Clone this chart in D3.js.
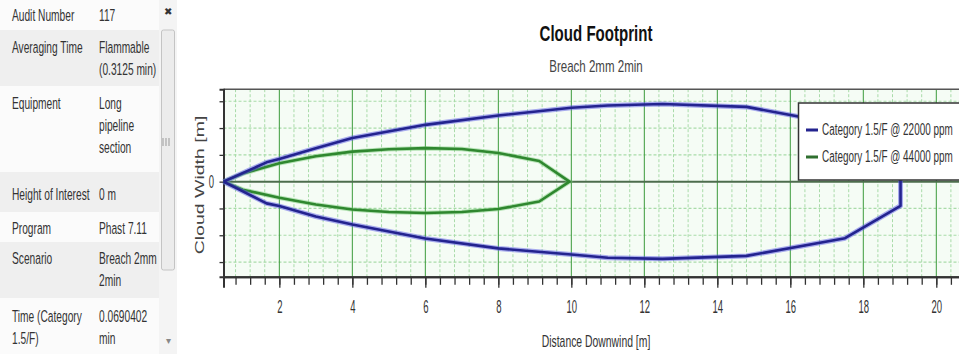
<!DOCTYPE html>
<html><head><meta charset="utf-8">
<script src="https://cdn.jsdelivr.net/npm/d3@7"></script>
<style>html,body{margin:0;padding:0;background:#fff;overflow:hidden}svg{display:block}</style>
</head><body>
<script>
// ---------- data ----------
const tableLabels = [["Audit Number"],["Averaging Time"],["Equipment"],["Height of Interest"],["Program"],["Scenario"],["Time (Category","1.5/F)"]];
const tableValues = [["117"],["Flammable","(0.3125 min)"],["Long","pipeline","section"],["0 m"],["Phast 7.11"],["Breach 2mm","2min"],["0.0690402","min"]];
const rowTextY = [15, 47, 103, 194, 228, 258, 316];
const rowTops = [0, 30, 86, 172, 212, 242, 298, 354];

const chartTitle = "Cloud Footprint";
const chartSubtitle = "Breach 2mm 2min";
const xLabel = "Distance Downwind [m]";
const yLabel = "Cloud Width [m]";
const seriesNames = ["Category 1.5/F @ 22000 ppm","Category 1.5/F @ 44000 ppm"];

const xTickValues = [2,4,6,8,10,12,14,16,18,20];
const yTickValues = [-3,-2,-1,0,1,2,3];

const blueDist  = [0.47, 1.65, 2, 3, 4, 6, 8, 10, 11, 12.5, 14.8, 17.5, 19.02];
const blueUpper = [0, 0.72, 0.85, 1.25, 1.63, 2.12, 2.47, 2.76, 2.84, 2.9, 2.79, 2.11, 0.9];
const blueLower = [0, -0.81, -0.91, -1.3, -1.6, -2.12, -2.49, -2.72, -2.84, -2.88, -2.77, -2.11, -0.9];

const greenDist  = [0.47, 1, 2, 3, 4, 5, 6, 7, 8, 9.12, 9.95];
const greenUpper = [0, 0.3, 0.69, 0.95, 1.12, 1.21, 1.25, 1.22, 1.07, 0.77, 0];
const greenLower = [0, -0.3, -0.6, -0.85, -1.04, -1.13, -1.17, -1.13, -1.02, -0.74, 0];

// ---------- setup ----------
const W = 959, H = 354;
const svg = d3.select("body").append("svg").attr("width", W).attr("height", H);
const FONT = "'Liberation Sans', Arial, sans-serif";

function txt(g, x, y, s, o) {
  o = o || {};
  return g.append("text")
    .attr("transform", `translate(${x},${y}) scale(${o.sx||0.6},1)`)
    .attr("text-anchor", o.anchor || "start")
    .attr("font-family", FONT)
    .attr("font-size", o.size || 17)
    .attr("font-weight", o.weight || "normal")
    .attr("fill", o.fill || "#333")
    .text(s);
}

// ---------- left table ----------
const tbl = svg.append("g");
tableLabels.forEach((lab, i) => {
  tbl.append("rect").attr("x", 0).attr("y", rowTops[i]).attr("width", 159)
    .attr("height", rowTops[i+1]-rowTops[i]).attr("fill", i % 2 ? "#efefef" : "#fbfbfb");
  lab.forEach((l, k) => txt(tbl, 12, rowTextY[i] + 6 + k*22, l));
  tableValues[i].forEach((v, k) => txt(tbl, 99, rowTextY[i] + 6 + k*22, v));
});
// scrollbar
tbl.append("rect").attr("x", 159).attr("y", 0).attr("width", 18).attr("height", H).attr("fill", "#f4f4f4");
tbl.append("rect").attr("x", 161.5).attr("y", 30).attr("width", 13).attr("height", 240).attr("rx", 2)
  .attr("fill", "#ececec").attr("stroke", "#c4c4c4");
[-3,0,3].forEach(d => tbl.append("line").attr("x1", 166+d).attr("x2", 166+d).attr("y1", 138).attr("y2", 146)
  .attr("stroke", "#999"));
txt(tbl, 168, 15, "✖", {size: 10, sx: 1, anchor: "middle", fill: "#333"});
txt(tbl, 168, 344, "▾", {size: 10, sx: 1, anchor: "middle", fill: "#888"});

// ---------- chart ----------
const x = d3.scaleLinear().domain([0.47, 21]).range([223.5, 972.8]);
const y = d3.scaleLinear().domain([-3.55, 3.45]).range([276.8, 89.2]);
const L = x.range()[0], R = W, T = y.range()[1], B = y.range()[0];

const ch = svg.append("g");
ch.append("rect").attr("x", L).attr("y", T).attr("width", R-L).attr("height", B-T).attr("fill", "#f5fcf5");

// minor vertical grid every 0.4
const minorX = d3.range(0.8, 21, 0.4).map(v => +v.toFixed(1));
ch.append("g").selectAll("line").data(minorX.filter(v => Math.abs(v/2 - Math.round(v/2)) > 1e-6)).join("line")
  .attr("x1", d => x(d)).attr("x2", d => x(d)).attr("y1", T).attr("y2", B)
  .attr("stroke", "#a9dba9").attr("stroke-width", 1).attr("stroke-dasharray", "3,2");
// horizontal light grid
ch.append("g").selectAll("line").data(yTickValues.filter(v => v !== 0)).join("line")
  .attr("x1", L).attr("x2", R).attr("y1", d => y(d)).attr("y2", d => y(d))
  .attr("stroke", "#a9dba9").attr("stroke-width", 1.2).attr("stroke-dasharray", "3,2");
// major vertical grid
ch.append("g").selectAll("line").data(xTickValues).join("line")
  .attr("x1", d => x(d)).attr("x2", d => x(d)).attr("y1", T).attr("y2", B)
  .attr("stroke", "#3c9a3c").attr("stroke-width", 1);
// zero line
ch.append("line").attr("x1", L).attr("x2", R).attr("y1", y(0)).attr("y2", y(0))
  .attr("stroke", "#4d6d4d").attr("stroke-width", 2);

// top border
ch.append("line").attr("x1", L).attr("x2", R).attr("y1", T).attr("y2", T).attr("stroke", "#555").attr("stroke-width", 1.5);

// x axis
const xAxisMinor = d3.axisBottom(x).tickValues(minorX).tickSize(8).tickFormat("");
const gxm = ch.append("g").attr("transform", `translate(0,${B})`).call(xAxisMinor);
const xAxis = d3.axisBottom(x).tickValues(xTickValues).tickSize(11).tickPadding(14).tickFormat(d3.format("d"));
const gx = ch.append("g").attr("transform", `translate(0,${B})`).call(xAxis);
[gxm, gx].forEach(g => {
  g.select(".domain").attr("stroke", "#333").attr("stroke-width", 2);
  g.selectAll(".tick line").attr("stroke", "#333").attr("stroke-width", 1.3);
});
gx.selectAll(".tick text").remove();
gx.selectAll(".tick").each(function(d) {
  txt(d3.select(this), 0, 36, String(d), {size: 19, sx: 0.5, anchor: "middle"});
});

// y axis
const yAxis = d3.axisLeft(y).tickValues(yTickValues).tickSize(4).tickPadding(9).tickFormat(d => d === 0 ? "0" : "");
const gy = ch.append("g").attr("transform", `translate(${L},0)`).call(yAxis);
gy.select(".domain").attr("stroke", "#333").attr("stroke-width", 2);
gy.selectAll(".tick line").attr("stroke", "#333").attr("stroke-width", 1.3);
gy.selectAll(".tick text").remove();
gy.selectAll(".tick").filter(d => d === 0).each(function() {
  txt(d3.select(this), -12, 6, "0", {size: 19, sx: 0.5, anchor: "middle"});
});

// series
const line = d3.line().x(d => x(d[0])).y(d => y(d[1]));
const bluePts = blueDist.map((d, i) => [d, blueUpper[i]]).concat(blueDist.map((d, i) => [d, blueLower[i]]).reverse());
const greenPts = greenDist.map((d, i) => [d, greenUpper[i]]).concat(greenDist.map((d, i) => [d, greenLower[i]]).reverse());

ch.append("path").attr("d", line(greenPts)).attr("fill", "none").attr("stroke", "#6cc86c").attr("stroke-width", 4.5).attr("opacity", 0.45);
ch.append("path").attr("d", line(greenPts)).attr("fill", "none").attr("stroke", "#2f872f").attr("stroke-width", 2.6).attr("stroke-linejoin", "round");
ch.append("path").attr("d", line(bluePts)).attr("fill", "none").attr("stroke", "#5a5ae6").attr("stroke-width", 5).attr("opacity", 0.5).attr("stroke-linejoin", "round");
ch.append("path").attr("d", line(bluePts)).attr("fill", "none").attr("stroke", "#23238f").attr("stroke-width", 2.6).attr("stroke-linejoin", "round");

// legend
const lg = ch.append("g");
lg.append("rect").attr("x", 798.5).attr("y", 103).attr("width", 180).attr("height", 77)
  .attr("fill", "#fff").attr("stroke", "#333").attr("stroke-width", 1.5);
const legendColors = ["#23238f", "#2f6f2f"];
seriesNames.forEach((n, i) => {
  const yy = 130 + i*27;
  lg.append("line").attr("x1", 806).attr("x2", 818).attr("y1", yy).attr("y2", yy)
    .attr("stroke", legendColors[i]).attr("stroke-width", 3);
  txt(lg, 822, yy + 5, n, {size: 16, sx: 0.62});
});

// titles
txt(svg, 596, 41, chartTitle, {size: 22, sx: 0.685, anchor: "middle", weight: "bold", fill: "#111"});
txt(svg, 596, 72, chartSubtitle, {size: 16, sx: 0.72, anchor: "middle", fill: "#444"});
txt(svg, 596, 347, xLabel, {size: 16, sx: 0.65, anchor: "middle"});
svg.append("text").attr("transform", "translate(204,185) rotate(-90) scale(1.5,1)")
  .attr("text-anchor", "middle").attr("font-family", FONT).attr("font-size", 13).attr("fill", "#444").text(yLabel);
</script>
</body></html>
